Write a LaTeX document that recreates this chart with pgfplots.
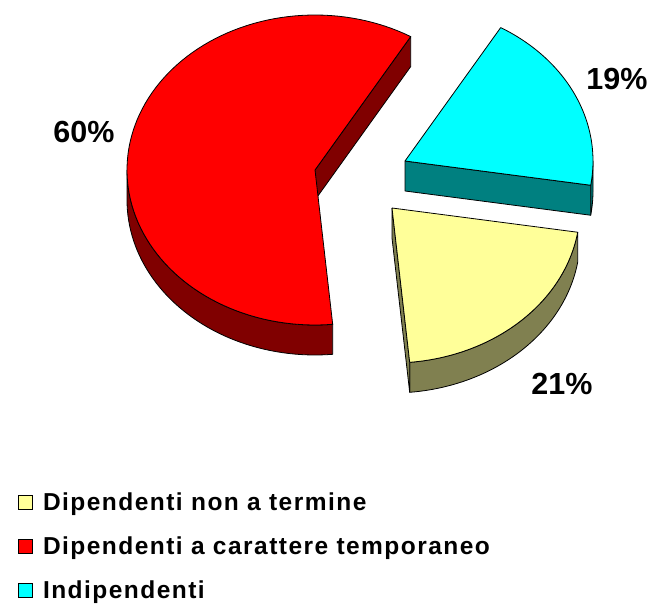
\documentclass[border=0pt]{standalone}
\usepackage{pgfplots}
\pgfplotsset{compat=1.18}
\usepackage{pgfplotstable}
\usepackage{fontspec}
\setmainfont{Liberation Sans}
\newfontfamily\legfont[LetterSpace=6, UprightFont={* Bold}]{Liberation Sans}

\definecolor{ytop}{HTML}{FFFF99}
\definecolor{yside}{HTML}{808050}
\definecolor{rtop}{HTML}{FF0000}
\definecolor{rside}{HTML}{800000}
\definecolor{ctop}{HTML}{00FFFF}
\definecolor{cside}{HTML}{008080}

% share (%) of each slice, and the position of its exploded apex
\pgfplotstableread{
name value cx cy
yellow 21 392 398
red 60 315 436
cyan 19 405 445
}\piedata

\def\rx{188}
\def\ry{155}
\def\dep{30}
\def\startang{351}

% #1 cx, #2 cy, #3 a1, #4 a2 (counterclockwise), #5 top colour, #6 side colour
\newcommand\slice[6]{%
  % outer curved side (front half only)
  \pgfmathsetmacro\lo{max(#3,180)}%
  \pgfmathsetmacro\hi{min(#4,360)}%
  \pgfmathparse{\hi>\lo ? 1 : 0}%
  \ifdim\pgfmathresult pt>0.5pt
    \addplot[forget plot, fill=#6, draw=black, line width=0.8pt, line join=round,
      domain=0:4, samples=201, variable=\t]
      ({#1+\rx*cos(\lo+(\hi-\lo)*(min(\t,1)-min(max(\t-2,0),1)))},
       {#2+\ry*sin(\lo+(\hi-\lo)*(min(\t,1)-min(max(\t-2,0),1)))-\dep*(min(max(\t-1,0),1)-max(\t-3,0))});
  \fi
  % radial face at the start angle
  \pgfmathparse{cos(#3)>0 ? 1 : 0}%
  \ifdim\pgfmathresult pt>0.5pt
    \pgfmathsetmacro\xa{#1+\rx*cos(#3)}%
    \pgfmathsetmacro\ya{#2+\ry*sin(#3)}%
    \pgfmathsetmacro\yad{\ya-\dep}%
    \pgfmathsetmacro\cyd{#2-\dep}%
    \edef\doit{\noexpand\addplot[forget plot, fill=#6, draw=black, line width=0.8pt, line join=round]
      coordinates {(#1,#2) (\xa,\ya) (\xa,\yad) (#1,\cyd) (#1,#2)};}%
    \doit
  \fi
  % radial face at the end angle
  \pgfmathparse{cos(#4)<0 ? 1 : 0}%
  \ifdim\pgfmathresult pt>0.5pt
    \pgfmathsetmacro\xa{#1+\rx*cos(#4)}%
    \pgfmathsetmacro\ya{#2+\ry*sin(#4)}%
    \pgfmathsetmacro\yad{\ya-\dep}%
    \pgfmathsetmacro\cyd{#2-\dep}%
    \edef\doit{\noexpand\addplot[forget plot, fill=#6, draw=black, line width=0.8pt, line join=round]
      coordinates {(#1,#2) (\xa,\ya) (\xa,\yad) (#1,\cyd) (#1,#2)};}%
    \doit
  \fi
  % top face
  \addplot[forget plot, fill=#5, draw=black, line width=0.8pt, line join=round,
    domain=0:3, samples=301, variable=\t]
    ({#1+\rx*(min(\t,1)-max(\t-2,0))*cos(#3+(#4-#3)*min(max(\t-1,0),1))},
     {#2+\ry*(min(\t,1)-max(\t-2,0))*sin(#3+(#4-#3)*min(max(\t-1,0),1))});
}

\begin{document}
\begin{tikzpicture}
\pgfplotstablegetelem{0}{value}\of\piedata \let\vY\pgfplotsretval
\pgfplotstablegetelem{0}{cx}\of\piedata \let\xY\pgfplotsretval
\pgfplotstablegetelem{0}{cy}\of\piedata \let\yY\pgfplotsretval
\pgfplotstablegetelem{1}{value}\of\piedata \let\vR\pgfplotsretval
\pgfplotstablegetelem{1}{cx}\of\piedata \let\xR\pgfplotsretval
\pgfplotstablegetelem{1}{cy}\of\piedata \let\yR\pgfplotsretval
\pgfplotstablegetelem{2}{value}\of\piedata \let\vC\pgfplotsretval
\pgfplotstablegetelem{2}{cx}\of\piedata \let\xC\pgfplotsretval
\pgfplotstablegetelem{2}{cy}\of\piedata \let\yC\pgfplotsretval
% slices run clockwise from the start angle: yellow, red, cyan
\pgfmathsetmacro\aYhi{\startang}
\pgfmathsetmacro\aYlo{\aYhi-3.6*\vY}
\pgfmathsetmacro\aRhi{\aYlo}
\pgfmathsetmacro\aRlo{\aRhi-3.6*\vR}
\pgfmathsetmacro\aClo{\startang}
\pgfmathsetmacro\aChi{\aClo+3.6*\vC}
\begin{axis}[
  scale only axis, width=655pt, height=606pt,
  xmin=0, xmax=655, ymin=0, ymax=606,
  hide axis, clip=false,
  legend image code/.code={\draw[#1] (0pt,-7pt) rectangle (14pt,7pt);},
  legend style={at={(axis cs:18,115)}, anchor=north west, draw=none, fill=none,
    font=\legfont\fontsize{24.5}{24.5}\selectfont, inner sep=0pt,
    row sep=20.5pt, cells={anchor=west},
    /tikz/every odd column/.append style={column sep=8pt}},
]
\path (axis cs:0,0) rectangle (axis cs:655,606);
\slice{\xC}{\yC}{\aClo}{\aChi}{ctop}{cside}
\slice{\xR}{\yR}{\aRlo}{\aRhi}{rtop}{rside}
\slice{\xY}{\yY}{\aYlo}{\aYhi}{ytop}{yside}

\addlegendimage{fill=ytop, draw=black, line width=0.8pt}
\addlegendentry{Dipendenti non a termine}
\addlegendimage{fill=rtop, draw=black, line width=0.8pt}
\addlegendentry{Dipendenti a carattere temporaneo}
\addlegendimage{fill=ctop, draw=black, line width=0.8pt}
\addlegendentry{Indipendenti}

\node[font=\bfseries\fontsize{30.5}{31}\selectfont] at (axis cs:84,474) {60\%};
\node[font=\bfseries\fontsize{30.5}{31}\selectfont] at (axis cs:617,527) {19\%};
\node[font=\bfseries\fontsize{30.5}{31}\selectfont] at (axis cs:562,222) {21\%};
\end{axis}
\end{tikzpicture}
\end{document}
